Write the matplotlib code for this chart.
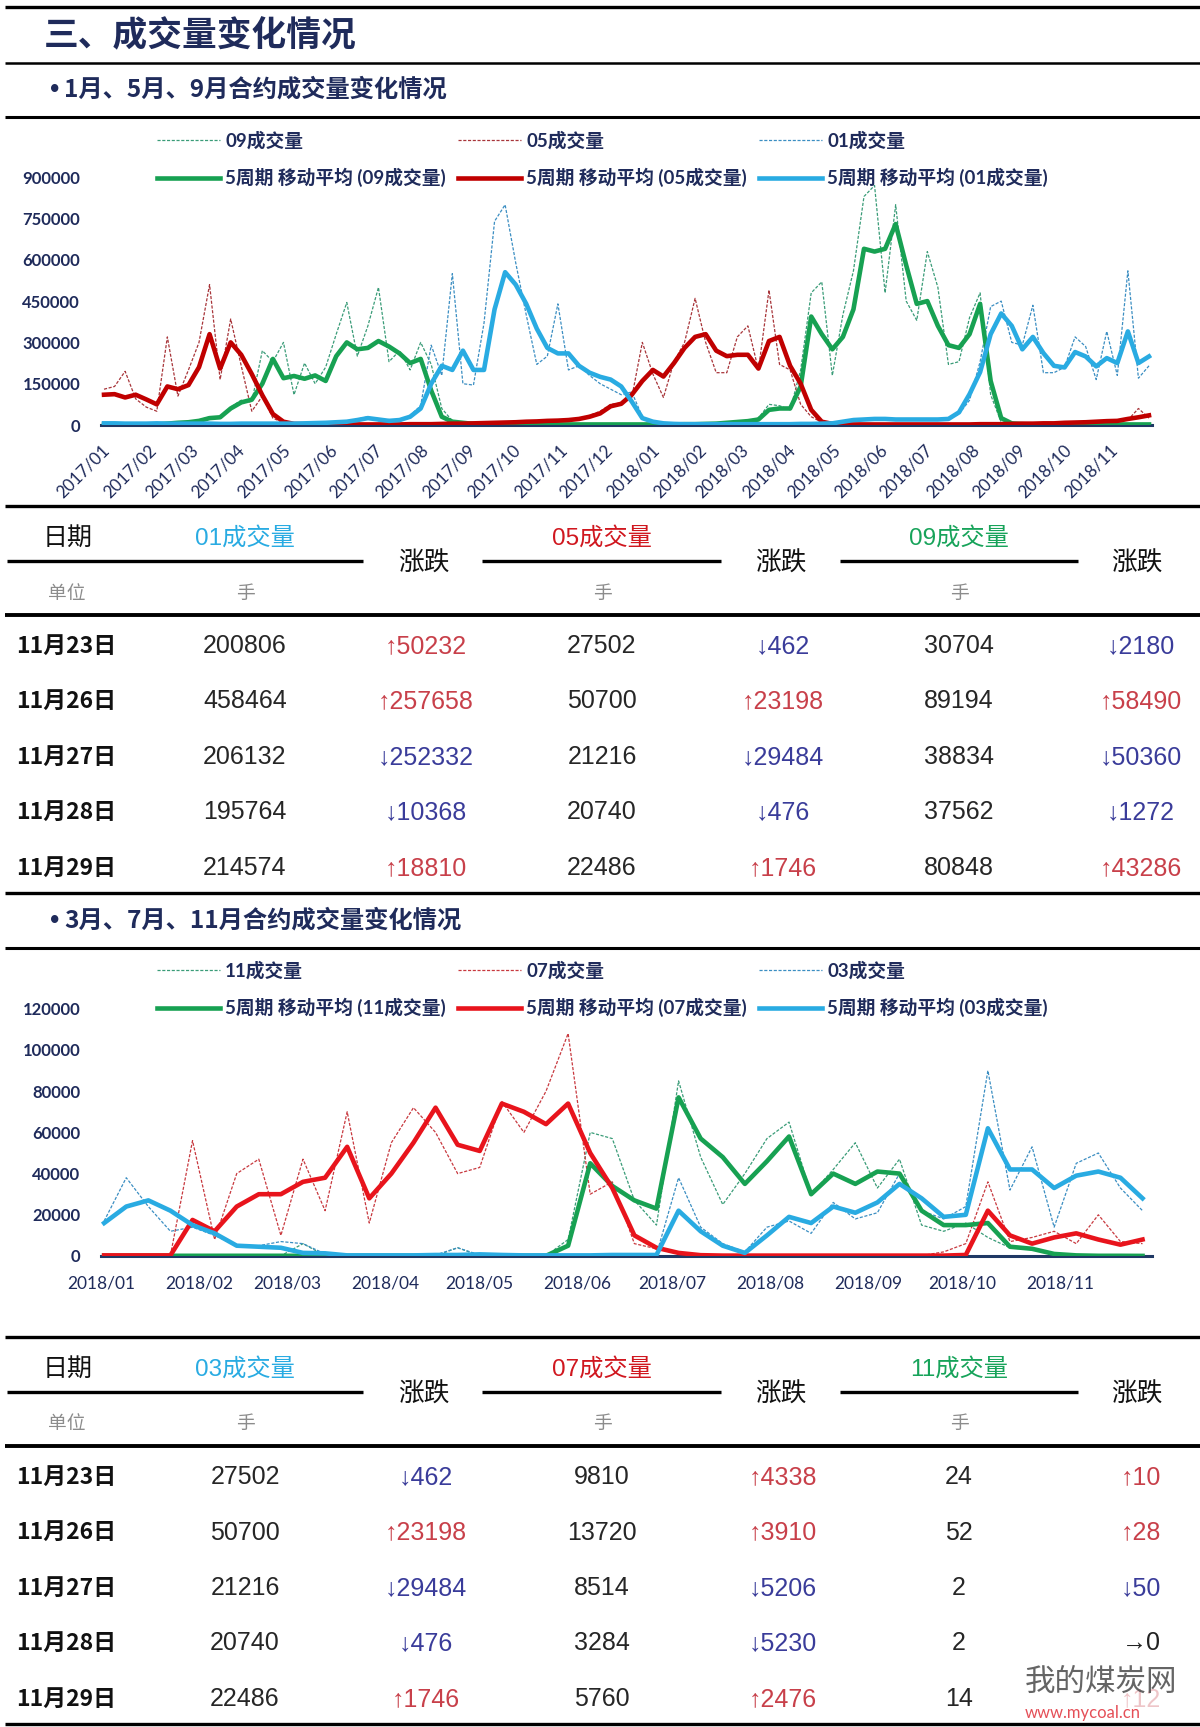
import numpy as np
import pandas as pd
import matplotlib
matplotlib.use('Agg')
import matplotlib.pyplot as plt
import matplotlib.dates as mdates
from matplotlib.lines import Line2D
from matplotlib import font_manager

# ---------------- data (volumes in thousands of lots) ----------------
dates1 = pd.date_range('2017-01-03', periods=100, freq='7D')
raw09 = [1,1,1,2,1,2,
         5,8,12,18,30,25,65,90,85,270,230,300,110,225,150,210,330,445,250,360,
         500,230,270,200,300,220,60,15,10,6,4,
         3,3,2,3,2,2,3,2,2,3,2,2,3,2,
         2,2,3,2,3,4,4,
         6,9,12,16,25,75,70,55,200,480,520,180,400,560,830,870,480,800,450,
         380,630,500,220,230,390,480,110,10,4,2,2,2,2,2,2,2,2,2,2,2,2,2]
ma09 = [1,1,1,1,1,2,
        5,8,10,15,25,28,60,82,92,150,240,170,178,168,180,160,250,300,275,280,
        305,285,260,225,240,125,30,12,8,4,3,
        2,2,2,2,2,2,2,2,2,2,2,2,2,2,
        2,2,2,2,3,3,4,
        5,8,11,14,20,55,60,60,140,394,330,275,320,420,640,630,640,730,580,
        440,450,360,290,280,330,440,160,25,6,3,2,2,2,2,2,2,2,2,2,2,2,2]
raw05 = [130,140,195,95,65,50,320,105,200,300,510,165,385,215,50,105,25,8,4,
         3,3,2,2,3,2,
         2,2,2,2,3,3,3,4,5,5,6,7,8,10,9,12,13,16,15,20,25,35,50,75,80,100,300,
         185,100,230,300,460,300,190,190,320,360,200,490,220,200,75,30,10,4,2,2,2,2,2,2,2,
         2,2,2,3,2,3,2,3,4,3,5,6,5,7,6,9,10,12,14,16,18,60,25]
ma05 = [110,112,100,110,93,75,140,130,145,210,330,205,300,255,185,108,40,12,4,
        3,3,2,2,2,2,
        2,2,2,2,3,3,3,4,5,5,6,7,8,9,10,12,13,15,16,18,22,30,42,68,77,110,160,
        200,176,225,280,320,330,270,250,255,255,205,305,320,215,150,55,12,4,3,2,2,2,2,2,2,
        2,2,2,2,2,2,3,3,3,4,5,5,6,6,8,9,10,12,14,15,22,28,35]
raw01 = [6,7,5,4,6,7,5,4,6,5,6,4,5,5,6,4,5,5,6,
         7,6,9,11,14,22,
         30,15,20,12,35,70,290,180,550,150,145,370,740,800,590,400,220,250,440,200,215,180,150,130,110,120,30,
         10,5,3,4,3,2,3,4,3,3,2,3,4,3,4,5,4,8,14,20,18,25,20,22,18,
         20,18,22,20,40,90,230,430,450,300,290,435,190,190,210,320,285,165,340,180,560,170,215]
ma01 = [6,6,5,5,5,6,5,5,5,5,5,4,4,5,5,5,5,5,5,
        6,7,8,10,12,18,
        25,20,15,18,30,60,150,215,200,270,200,200,420,555,510,440,350,280,260,260,215,190,175,165,140,85,25,
        12,6,4,3,3,3,3,3,3,3,3,3,3,3,4,4,5,6,12,18,20,22,22,20,20,
        20,20,20,22,46,112,192,330,405,360,275,320,261,215,209,265,249,213,243,225,340,225,249]

dates2 = pd.date_range('2018-01-02', periods=48, freq='7D')
raw11 = [0.1,0.1,0.1,0.1,0.1,0.1,0.1,0.1,0.1,6,0.1,0.1,0.1,0.1,0.1,0.1,4,0.1,0.1,0.1,0.1,8,60,
         57,27,15,85,48,25,40,57,65,30,42,55,33,47,15,12,16,9,4,3,1.5,0.1,0.05,0.05,0.02]
ma11 = [0.1,0.1,0.1,0.1,0.1,0.1,0.1,0.1,0.1,0.1,0.1,0.1,0.1,0.1,0.1,0.1,0.1,0.1,0.1,0.1,0.1,5,45,
        34,27,23,77,57,48,35,46,58,30,40,35,41,40,22,15,15,16,4.5,3.5,1,0.3,0.1,0.1,0.05]
raw07 = [0.3,0.3,0.3,0.3,56,8,40,47,10,47,22,70,16,55,72,60,40,43,75,60,80,108,30,
         36,6,3.5,1,0.3,0.2,0.2,0.2,0.2,0.2,0.2,0.2,0.2,0.2,0.2,2,6,36,7,9,12,6,20,7,6]
ma07 = [0.3,0.3,0.3,0.3,17.5,12,24,30,30,36,38,53,28,40,55,72,54,51,74,70,64,74,50,
        33,10,4,1.5,0.4,0.2,0.2,0.2,0.2,0.2,0.2,0.2,0.2,0.2,0.2,0.2,0.5,22,10,6,9,11,8,5.5,8]
raw03 = [17,38,24,12,14,10,5,5,7,6,1,0.5,0.5,0.3,0.4,0.5,4,0.5,0.3,0.3,0.3,0.3,0.3,
         0.3,0.5,0.8,38,14,6,2,14,17,11,26,18,21,40,22,18,24,90,32,53,14,45,50,33,22]
ma03 = [16,24,27,22,15,11,5,4.5,4,1.5,1.3,0.3,0.3,0.3,0.3,0.5,0.5,0.8,0.5,0.3,0.3,0.3,0.3,
        0.5,0.5,0.5,22,12,5,1.5,10,19,16,24,21,26,35,28,19,20,62,42,42,33,39,41,38,28]

yticks1 = [0, 150000, 300000, 450000, 600000, 750000, 900000]
yticks2 = [0, 20000, 40000, 60000, 80000, 100000, 120000]

table_dates = ['11月23日', '11月26日', '11月27日', '11月28日', '11月29日']
t1_headers = ['01成交量', '05成交量', '09成交量']
vol01 = [200806, 458464, 206132, 195764, 214574]
chg01 = [50232, 257658, -252332, -10368, 18810]
vol05 = [27502, 50700, 21216, 20740, 22486]
chg05 = [-462, 23198, -29484, -476, 1746]
vol09 = [30704, 89194, 38834, 37562, 80848]
chg09 = [-2180, 58490, -50360, -1272, 43286]
t2_headers = ['03成交量', '07成交量', '11成交量']
vol03 = [27502, 50700, 21216, 20740, 22486]
chg03 = [-462, 23198, -29484, -476, 1746]
vol07 = [9810, 13720, 8514, 3284, 5760]
chg07 = [4338, 3910, -5206, -5230, 2476]
vol11 = [24, 52, 2, 2, 14]
chg11 = [10, 28, -50, 0, 12]

# ---------------- styling ----------------
W, H = 1200, 1727
names = {f.name for f in font_manager.fontManager.ttflist}
CJK = 'Noto Sans CJK SC'
NUM = 'Lato' if 'Lato' in names else 'DejaVu Sans'
NARROW = 'Liberation Sans Narrow' if 'Liberation Sans Narrow' in names else 'Liberation Sans'
plt.rcParams['font.family'] = [NUM, CJK, 'DejaVu Sans']

NAVY = '#1f2b5b'
AXNAVY = '#1f3864'
GREEN, RED1, RED2, CYAN = '#17a152', '#c00000', '#e8141c', '#29abe2'
RGREEN, RRED1, RRED2, RCYAN = '#3a9c78', '#a8353a', '#c8393f', '#3b8ec2'
UP, DOWN = '#c8404a', '#3a3c9a'

fig = plt.figure(figsize=(12, 17.27), dpi=100)


def fx(x):
    return x / W


def fy(y):
    return 1 - y / H


def hline(x0, x1, y, lw):
    fig.add_artist(Line2D([fx(x0), fx(x1)], [fy(y), fy(y)], transform=fig.transFigure,
                          color='black', lw=lw, solid_capstyle='butt'))


def subtitle(y, text):
    fig.text(fx(48), fy(y), '•', ha='left', va='center', fontsize=15, fontweight='bold',
             color=NAVY, family=['DejaVu Sans'])
    fig.text(fx(64), fy(y), text, ha='left', va='center', fontsize=17.5,
             fontweight='bold', color=NAVY, family=[CJK])


# ---------------- headers ----------------
hline(5, 1200, 7, 2.4)
fig.text(fx(44), fy(36), '三、成交量变化情况', ha='left', va='center', fontsize=25,
         fontweight='bold', color=NAVY, family=[CJK])
hline(5, 1200, 63, 1.8)
subtitle(90, '1月、5月、9月合约成交量变化情况')
hline(5, 1200, 117, 2.2)


def chart(rect, dates, series, ylim, yticks, xlim, rotate, leg_y):
    ax = fig.add_axes(rect)
    raws, mas = [], []
    for raw, ma, rc, mc, name in series:
        l, = ax.plot(dates, np.array(raw) * 1000, color=rc, lw=0.9, ls=(0, (2.5, 1.3)),
                     label=f'{name}成交量', zorder=2)
        raws.append(l)
    for raw, ma, rc, mc, name in series:
        l, = ax.plot(dates, np.array(ma) * 1000, color=mc, lw=3.3,
                     label=f'5周期 移动平均 ({name}成交量)', zorder=3, solid_joinstyle='round')
        mas.append(l)
    handles = []
    for r, m in zip(raws, mas):
        handles += [r, m]
    ax.set_ylim(*ylim)
    ax.set_xlim(*xlim)
    ax.set_yticks(yticks)
    ax.set_yticklabels([f'{int(t)}' for t in yticks], fontweight='bold', color=NAVY,
                       fontsize=12, family=[NUM])
    ax.tick_params(axis='y', length=0, pad=15)
    ax.xaxis.set_major_locator(mdates.MonthLocator())
    ax.xaxis.set_major_formatter(mdates.DateFormatter('%Y/%m'))
    if rotate:
        ax.tick_params(axis='x', length=0, pad=12, labelsize=12.3, labelcolor=NAVY)
        for lbl in ax.get_xticklabels():
            lbl.set_rotation(45)
            lbl.set_ha('right')
            lbl.set_rotation_mode('anchor')
    else:
        ax.tick_params(axis='x', length=0, pad=14, labelsize=12.5, labelcolor=NAVY)
    for s in ['top', 'right', 'left']:
        ax.spines[s].set_visible(False)
    ax.spines['bottom'].set_color(AXNAVY)
    ax.spines['bottom'].set_linewidth(2.2)
    ax.spines['bottom'].set_zorder(1)
    ax.patch.set_alpha(0)
    fig.legend(handles=handles, loc='upper left', bbox_to_anchor=(fx(157), fy(leg_y)),
               ncol=3, frameon=False, borderpad=0, borderaxespad=0,
               handlelength=3.36, handletextpad=0.27, columnspacing=0.66, labelspacing=0.99,
               prop=dict(family=[NUM, CJK], weight='bold', size=13.5), labelcolor=NAVY)
    return ax


ax1 = chart([fx(101), fy(425), fx(1152) - fx(101), (425 - 160.7) / H], dates1,
            [(raw09, ma09, RGREEN, GREEN, '09'), (raw05, ma05, RRED1, RED1, '05'),
             (raw01, ma01, RCYAN, CYAN, '01')],
            (0, 960000), yticks1, (pd.Timestamp('2017-01-01'), pd.Timestamp('2018-11-29')), True, 131)

# ---------------- tables ----------------
COLX = [245, 602, 959]
CHGX = [426, 783, 1141]
ZDX = [424, 781, 1137]
HLX = [(7, 363), (482, 721), (840, 1078)]
DY = 3


def table(top, headers, hcolors, vols, chgs, faded=None):
    hline(5, 1200, top, 2.4)
    yh = top + 29 + DY
    fig.text(fx(68), fy(yh), '日期', ha='center', va='center', fontsize=18, family=[CJK], color='#111111')
    fig.text(fx(67), fy(top + 84 + DY), '单位', ha='center', va='center', fontsize=13.5, family=[CJK],
             color='#8c8c8c')
    for k in range(3):
        fig.text(fx(COLX[k]), fy(yh), headers[k], ha='center', va='center', fontsize=17.5,
                 family=[NARROW, CJK], color=hcolors[k])
        hline(HLX[k][0], HLX[k][1], top + 55, 2.4)
        fig.text(fx(ZDX[k]), fy(top + 55 + DY), '涨跌', ha='center', va='center', fontsize=18.5,
                 family=[CJK], color='#111111')
        fig.text(fx(COLX[k]), fy(top + 84 + DY), '手', ha='center', va='center', fontsize=13.5,
                 family=[CJK], color='#8c8c8c')
    hline(5, 1200, top + 109, 2.8)
    for r in range(5):
        y = top + 137 + 55.5 * r + DY
        fig.text(fx(16), fy(y), table_dates[r], ha='left', va='center', fontsize=16.5,
                 fontweight='bold', family=[CJK], color='#111111')
        for k in range(3):
            fig.text(fx(COLX[k]), fy(y), str(vols[k][r]), ha='center', va='center',
                     fontsize=18, family=[NARROW, 'DejaVu Sans'], color='#262626')
            v = chgs[k][r]
            if v > 0:
                s, c = '↑', UP
            elif v < 0:
                s, c = '↓', DOWN
            else:
                s, c = '→', '#222222'
            a = 0.3 if (faded is not None and (r, k) == faded) else 1.0
            fig.text(fx(CHGX[k]), fy(y), f'{s}{abs(v)}', ha='center', va='center', fontsize=18,
                     family=[NARROW, 'DejaVu Sans'], color=c, alpha=a)
    hline(5, 1200, top + 387, 2.4)


table(506, t1_headers, [CYAN, '#d0171f', '#17a35a'], [vol01, vol05, vol09], [chg01, chg05, chg09])

subtitle(921, '3月、7月、11月合约成交量变化情况')
hline(5, 1200, 948, 2.2)

ax2 = chart([fx(101), fy(1256), fx(1152) - fx(101), (1256 - 998.5) / H], dates2,
            [(raw11, ma11, RGREEN, GREEN, '11'), (raw07, ma07, RRED2, RED2, '07'),
             (raw03, ma03, RCYAN, CYAN, '03')],
            (0, 125000), yticks2, (pd.Timestamp('2018-01-01'), pd.Timestamp('2018-11-30')), False, 961)

table(1337, t2_headers, [CYAN, '#d0171f', '#17a35a'], [vol03, vol07, vol11], [chg03, chg07, chg11],
      faded=(4, 2))

# watermark
fig.text(fx(1025), fy(1682), '我的煤炭网', ha='left', va='center', fontsize=22, family=[CJK],
         color='#4a4a4a', alpha=0.85)
fig.text(fx(1025), fy(1713), 'www.mycoal.cn', ha='left', va='center', fontsize=12, family=[NUM],
         color='#e0303a', alpha=0.85)

fig.savefig('out.png', dpi=100)
